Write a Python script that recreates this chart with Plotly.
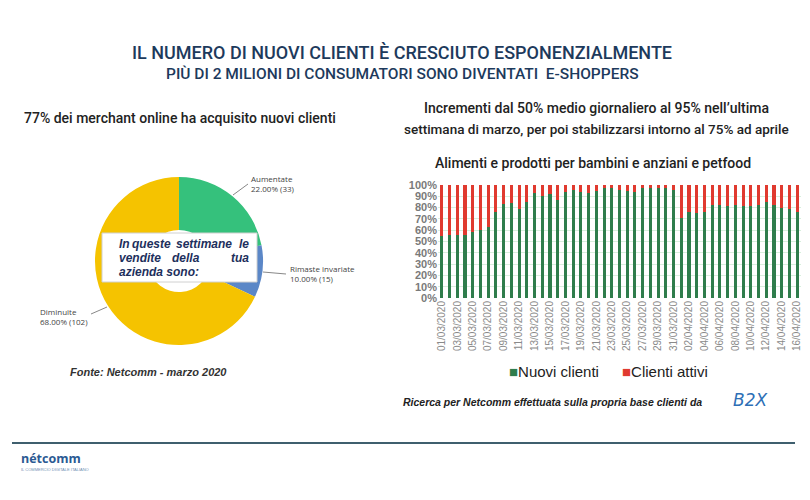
import plotly.graph_objects as go

# --- donut: "In queste settimane le vendite della tua azienda sono:"
pie_labels = ["Aumentate", "Rimaste invariate", "Diminuite"]
pie_values = [33, 15, 102]
pie_pct = ["22.00%", "10.00%", "68.00%"]
pie_colors = ["#35c17c", "#5b87c7", "#f5c300"]

# --- stacked bars: Alimenti e prodotti per bambini e anziani e petfood
giorni = [f"{d:02d}/03/2020" for d in range(1, 32)] + [f"{d:02d}/04/2020" for d in range(1, 17)]
nuovi_clienti = [55, 56, 56, 56, 58, 60, 63, 76, 83, 84, 79, 85, 93, 90, 92, 87,
                 94, 96, 94, 93, 95, 97, 97, 96, 95, 94, 97, 97, 97, 97, 96,
                 71, 76, 75, 76, 82, 82, 81, 82, 81, 81, 82, 85, 82, 80, 79, 76]
clienti_attivi = [45, 44, 44, 44, 42, 40, 37, 24, 17, 16, 21, 15, 7, 10, 8, 13,
                  6, 4, 6, 7, 5, 3, 3, 4, 5, 6, 3, 3, 3, 3, 4,
                  29, 24, 25, 24, 18, 18, 19, 18, 19, 19, 18, 15, 18, 20, 21, 24]
tick_giorni = giorni[::2]
y_ticks = list(range(0, 101, 10))

# the page puts the figure 8px in from the top-left corner of the window
OFF = 8
W, H = 810 - OFF, 500 - OFF
NAVY = "#1d3a5c"
GREEN, RED = "#2f7d4c", "#e03a2f"
CAL = "Roboto, Arial, sans-serif"
ARIAL = "Liberation Sans, Arial, sans-serif"


def px(x):
    return (x - OFF) / W


def py(y):
    return 1 - (y - OFF) / H


fig = go.Figure()

fig.add_trace(go.Pie(
    labels=pie_labels,
    values=pie_values,
    hole=0.37,
    sort=False,
    direction="clockwise",
    rotation=0,
    marker=dict(colors=pie_colors, line=dict(width=0)),
    textinfo="none",
    showlegend=False,
    domain=dict(x=[px(95), px(263)], y=[py(345), py(177)]),
))

fig.add_trace(go.Bar(
    name="Nuovi clienti", x=giorni, y=nuovi_clienti,
    marker=dict(color=GREEN, line=dict(width=0)), showlegend=False,
))
fig.add_trace(go.Bar(
    name="Clienti attivi", x=giorni, y=clienti_attivi,
    marker=dict(color=RED, line=dict(width=0)), showlegend=False,
))

fig.update_layout(
    width=W, height=H,
    margin=dict(l=0, r=0, t=0, b=0, autoexpand=False),
    paper_bgcolor="white", plot_bgcolor="white",
    barmode="stack", bargap=0.6,
    font=dict(family=ARIAL, color="#333"),
    xaxis=dict(
        domain=[px(438), px(801)],
        range=[-0.5, len(giorni) - 0.5],
        tickmode="array", tickvals=tick_giorni, ticktext=tick_giorni,
        tickangle=-90, tickfont=dict(size=10, color="#8a8a8a"),
        showgrid=False, showline=False, ticks="", automargin=False,
    ),
    yaxis=dict(
        domain=[py(298), py(185)],
        range=[0, 100],
        tickmode="array", tickvals=y_ticks,
        ticktext=[f"<b>{v}%</b>" for v in y_ticks],
        tickfont=dict(size=11, color="#7a7a7a"),
        showgrid=True, gridcolor="#d8efdd", gridwidth=1,
        zeroline=False, showline=False, ticks="", automargin=False,
    ),
)

anns = [
    dict(x=px(402), y=py(53), text="IL NUMERO DI NUOVI CLIENTI È CRESCIUTO ESPONENZIALMENTE",
         font=dict(family=CAL, size=18, color=NAVY, weight=500)),
    dict(x=px(402), y=py(74), text="PIÙ DI 2 MILIONI DI CONSUMATORI SONO DIVENTATI  E-SHOPPERS",
         font=dict(family=CAL, size=15.5, color=NAVY, weight=500)),
    dict(x=px(180), y=py(118), text="77% dei merchant online ha acquisito nuovi clienti",
         font=dict(family=CAL, size=14, color="#222", weight=500)),
    dict(x=px(596), y=py(108), text="Incrementi dal 50% medio giornaliero al 95% nell’ultima",
         font=dict(family=CAL, size=14, color="#222", weight=500)),
    dict(x=px(596), y=py(129), text="settimana di marzo, per poi stabilizzarsi intorno al 75% ad aprile",
         font=dict(family=CAL, size=13.5, color="#222", weight=500)),
    dict(x=px(593), y=py(163), text="Alimenti e prodotti per bambini e anziani e petfood",
         font=dict(family=CAL, size=14, color="#222", weight=500)),
    # legend
    dict(x=px(507), y=py(371), xanchor="left",
         text=f"<span style='color:{GREEN}'>■</span>Nuovi clienti",
         font=dict(family=ARIAL, size=15, color="#222")),
    dict(x=px(620), y=py(371), xanchor="left",
         text=f"<span style='color:{RED}'>■</span>Clienti attivi",
         font=dict(family=ARIAL, size=15, color="#222")),
    dict(x=px(552), y=py(402), text="<b><i>Ricerca per Netcomm effettuata sulla propria base clienti da</i></b>",
         font=dict(family=ARIAL, size=10.5, color="#222")),
    dict(x=px(750), y=py(400), text="<i>B2X</i>",
         font=dict(family="DejaVu Sans, sans-serif", size=17, color="#2e6fb6")),
    dict(x=px(148), y=py(372), text="<b><i>Fonte: Netcomm - marzo 2020</i></b>",
         font=dict(family=ARIAL, size=11, color="#333")),
    dict(x=px(19), y=py(458), xanchor="left", text="<b>nétcomm</b>",
         font=dict(family="Open Sans, sans-serif", size=12.5, color="#2b5a93")),
    dict(x=px(19), y=py(469), xanchor="left", text="IL COMMERCIO DIGITALE ITALIANO",
         font=dict(family=ARIAL, size=4, color="#6f8fb3")),
]

# pie slice labels
pie_pos = [(249, 183), (288, 273), (38, 316)]
for (lx, ly), lab, pc, v in zip(pie_pos, pie_labels, pie_pct, pie_values):
    anns.append(dict(x=px(lx), y=py(ly), xanchor="left", align="left",
                     text=f"{lab}<br>{pc} ({v})",
                     font=dict(family="Open Sans, sans-serif", size=8, color="#444")))

# text box over the donut (justified words)
BOXF = dict(family=ARIAL, size=12, color="#1d2f5c")
box_words = [
    ("In", 117, 244, "left"), ("queste", 151, 244, "center"),
    ("settimane", 204, 244, "center"), ("le", 251, 244, "right"),
    ("vendite", 117, 258, "left"), ("della", 186, 258, "center"),
    ("tua", 251, 258, "right"),
    ("azienda sono:", 117, 272, "left"),
]
for w, wx, wy, anc in box_words:
    anns.append(dict(x=px(wx), y=py(wy), xanchor=anc, text=f"<b><i>{w}</i></b>", font=BOXF))

for a in anns:
    a.setdefault("xanchor", "center")
    a.update(xref="paper", yref="paper", showarrow=False, yanchor="middle")
    fig.add_annotation(**a)

shapes = [
    dict(type="rect", x0=px(102), x1=px(257), y0=py(282), y1=py(233),
         fillcolor="white", line=dict(color="#d0d0d0", width=1)),
    # leader lines
    dict(type="line", x0=px(233), y0=py(195), x1=px(248), y1=py(184), line=dict(color="#888", width=1)),
    dict(type="line", x0=px(263), y0=py(272), x1=px(286), y1=py(274), line=dict(color="#888", width=1)),
    dict(type="line", x0=px(107), y0=py(307), x1=px(91), y1=py(314), line=dict(color="#888", width=1)),
    # footer rule
    dict(type="line", x0=px(12), y0=py(443), x1=px(795), y1=py(443), line=dict(color="#3f5f6e", width=2)),
]
for s in shapes:
    s.update(xref="paper", yref="paper", layer="above")
    fig.add_shape(**s)

fig.write_html("out.html")
